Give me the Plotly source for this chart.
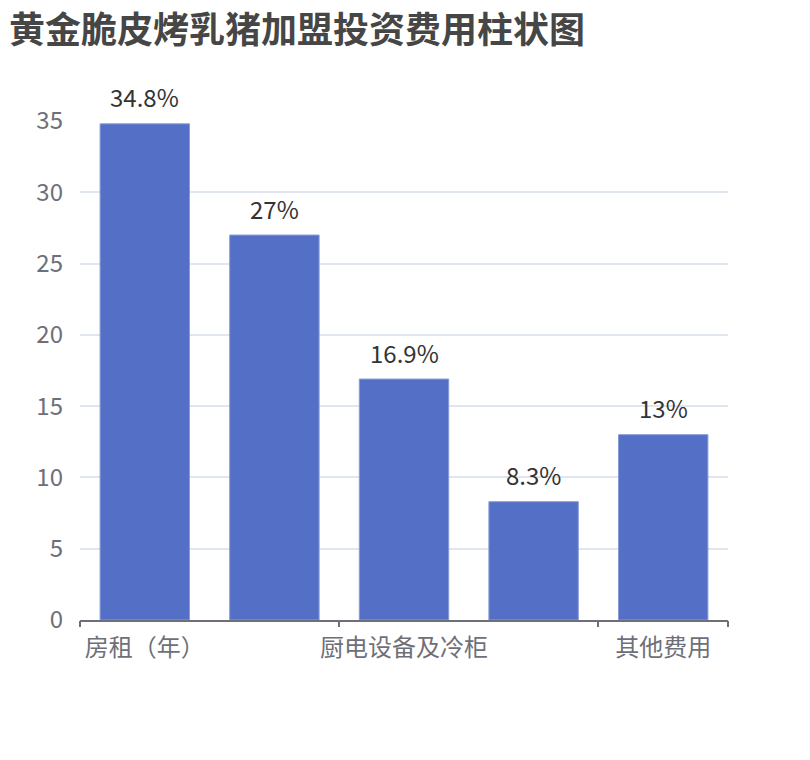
import plotly.graph_objects as go

categories = ["房租（年）", "装修费用", "厨电设备及冷柜", "加盟费", "其他费用"]
values = [34.8, 27, 16.9, 8.3, 13]
shown_labels = ["房租（年）", "厨电设备及冷柜", "其他费用"]
y_ticks = [0, 5, 10, 15, 20, 25, 30, 35]
title_text = "黄金脆皮烤乳猪加盟投资费用柱状图"

FONT = "Noto Sans CJK SC, Noto Sans, sans-serif"
AXIS_C = "#6E7079"
W, H, MT, MB, ML, MR = 810, 760, 121, 140, 80, 82

fig = go.Figure()
fig.add_trace(go.Bar(
    x=categories, y=values,
    marker=dict(color="#5470C6", line=dict(width=1, color="#8a9bd8")),
    cliponaxis=False, width=0.69, hoverinfo="skip",
))
# value labels above bars
for c, v in zip(categories, values):
    fig.add_annotation(x=c, y=v, text=f"{v:g}%", showarrow=False,
                       yanchor="middle", yshift=27,
                       font=dict(size=24, color="#333333", family=FONT))
# title as annotation anchored at the page top
plot_h = H - MT - MB
plot_w = W - ML - MR
fig.add_annotation(xref="paper", yref="paper", x=(8 - ML) / plot_w, y=1 + MT / plot_h,
                   xanchor="left", yanchor="top", yshift=0, showarrow=False,
                   borderpad=0,
                   text=f"<b>{title_text}</b>",
                   font=dict(size=36, color="#464646", family=FONT))
# invisible helper trace for the boundary tick axis
fig.add_trace(go.Scatter(x=[-0.5, 4.5], y=[0, 0], xaxis="x2", mode="markers",
                         marker=dict(opacity=0), showlegend=False, hoverinfo="skip"))

fig.update_layout(
    width=W, height=H,
    margin=dict(l=ML, r=MR, t=MT, b=MB),
    paper_bgcolor="white", plot_bgcolor="white",
    showlegend=False,
    font=dict(family=FONT, color=AXIS_C),
    xaxis=dict(type="category", categoryorder="array", categoryarray=categories,
               range=[-0.5, 4.5], tickvals=shown_labels, ticktext=shown_labels,
               ticks="", showline=True, linecolor=AXIS_C, linewidth=2,
               showgrid=False, zeroline=False,
               tickfont=dict(size=24, color=AXIS_C, family=FONT), ticklabelstandoff=5),
    xaxis2=dict(overlaying="x", anchor="y", range=[-0.5, 4.5], side="bottom",
                tickvals=[-0.5, 1.5, 3.5, 4.5], ticks="outside", ticklen=6, tickwidth=2,
                tickcolor=AXIS_C, showticklabels=False, showgrid=False, zeroline=False,
                showline=False),
    yaxis=dict(range=[0, 35], tickvals=y_ticks, showline=False, zeroline=False,
               gridcolor="#E0E6F1", gridwidth=1.5,
               tickfont=dict(size=24, color=AXIS_C, family=FONT), ticklabelstandoff=16),
)

fig.write_html("out.html")
